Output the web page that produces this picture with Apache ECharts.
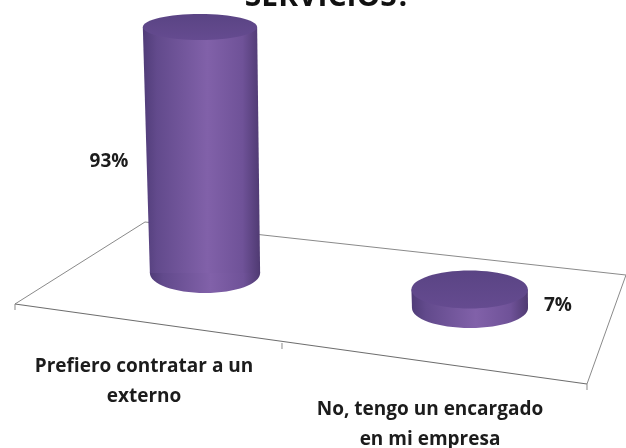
<!DOCTYPE html>
<html><head><meta charset="utf-8">
<style>html,body{margin:0;padding:0;background:#fff}#c{width:626px;height:448px}</style>
<script src="https://cdn.jsdelivr.net/npm/echarts@6/dist/echarts.min.js"></script>
</head><body><div id="c"></div>
<script>
var categories = ['Prefiero contratar a un\nexterno', 'No, tengo un encargado\nen mi empresa'];
var values = [93, 7];
var titleText = 'SERVICIOS?';

var SKEW = 35 / 265;           // floor slope per pixel
var X0 = 205;                  // centre of first category
function baseShift(x) { return (x - X0) * SKEW; }

var font = '"Open Sans", sans-serif';
var chart = echarts.init(document.getElementById('c'), null, {renderer: 'canvas'});

function sideFill() {
  return new echarts.graphic.LinearGradient(0, 0, 1, 0, [
    {offset: 0, color: '#503c78'},
    {offset: 0.12, color: '#624a8c'},
    {offset: 0.55, color: '#8161a9'},
    {offset: 0.85, color: '#6f5298'},
    {offset: 1, color: '#4f3a72'}
  ]);
}

function renderCylinder(params, api) {
  var idx = api.value(0), val = api.value(1);
  var p = api.coord([idx, val]);
  var z = api.coord([idx, 0]);
  var band = api.size([1, 0])[0];
  var rx = band * (0.208 + idx * 0.011);
  var topRx = rx + val * 0.022;
  var lean = val * 0.054;
  var shift = baseShift(p[0]);
  var botY = z[1] + shift, topY = p[1] + shift;
  var topX = p[0] - lean;
  var ryTop = idx === 0 ? 13 : 19;
  var ryBot = 20;
  return {
    type: 'group',
    children: [
      {type: 'ellipse', shape: {cx: p[0], cy: botY, rx: rx, ry: ryBot}, style: {fill: sideFill()}},
      {type: 'polygon', shape: {points: [[topX - topRx, topY], [topX + topRx, topY], [p[0] + rx, botY], [p[0] - rx, botY]]}, style: {fill: sideFill()}},
      {type: 'ellipse', shape: {cx: topX, cy: topY, rx: topRx, ry: ryTop},
        style: {fill: new echarts.graphic.LinearGradient(0, 0, 0, 1, [
          {offset: 0, color: '#5a4484'},
          {offset: 1, color: '#654b90'}
        ])}
      },
      {type: 'text', style: {
        text: values[idx] + '%',
        x: idx === 0 ? p[0] - 96 : p[0] + 88,
        y: idx === 0 ? topY + 135 : topY + 16,
        align: 'center', verticalAlign: 'middle',
        font: '700 19px ' + font, fill: '#1c1c1c'
      }},
      {type: 'text', style: {
        text: categories[idx],
        x: p[0] - (idx === 0 ? 61 : 40),
        y: idx === 0 ? 382 : 425,
        align: 'center', verticalAlign: 'middle', lineHeight: 30,
        font: '700 19px ' + font, fill: '#1c1c1c'
      }}
    ]
  };
}

function renderFloor(params, api) {
  var c0 = api.coord([0, 0]), c1 = api.coord([1, 0]);
  var band = c1[0] - c0[0];
  var fl = [c0[0] - band * 0.717, c0[1] + 31];
  var fm = [fl[0] + 267, fl[1] + 39];
  var fr = [fl[0] + 572, fl[1] + 80];
  var br = [fr[0] + 39, fr[1] - 109];
  var bl = [fl[0] + 130, fl[1] - 82];
  var st = {stroke: '#8a8a8a', lineWidth: 1, fill: null};
  function seg(a, b, s) { return {type: 'line', shape: {x1: a[0], y1: a[1], x2: b[0], y2: b[1]}, style: s || st}; }
  var front = {stroke: '#6e6e6e', lineWidth: 1.2, fill: null};
  return {type: 'group', children: [
    seg(fl, bl), seg(bl, br), seg(br, fr), seg(fl, fr, front),
    seg(fl, [fl[0], fl[1] + 6]), seg(fm, [fm[0], fm[1] + 6]), seg(fr, [fr[0], fr[1] + 6])
  ]};
}

chart.setOption({
  animation: false,
  backgroundColor: '#fff',
  title: {
    text: titleText, left: 323, textAlign: 'center', top: -23,
    textStyle: {fontFamily: font, fontWeight: 'bold', fontSize: 30, color: '#111'}
  },
  grid: {left: 72.5, width: 530, top: 273 - 264.5, height: 264.5},
  xAxis: {type: 'category', data: categories, show: false},
  yAxis: {type: 'value', min: 0, max: 100, show: false},
  series: [
    {type: 'custom', coordinateSystem: 'cartesian2d', renderItem: renderFloor, data: [[0, 0]], clip: false, silent: true, z: 1},
    {type: 'custom', coordinateSystem: 'cartesian2d', renderItem: renderCylinder,
     data: values.map(function (v, i) { return [i, v]; }), clip: false, silent: true, z: 2}
  ]
});
</script></body></html>
